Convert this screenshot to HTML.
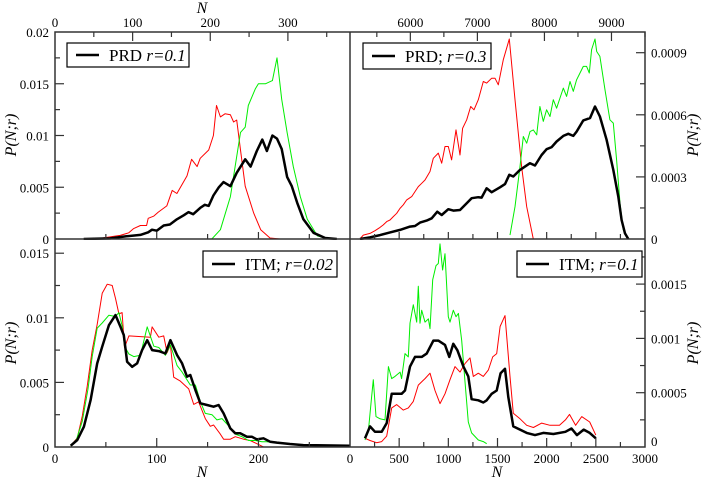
<!DOCTYPE html>
<html><head><meta charset="utf-8"><style>
html,body{margin:0;padding:0;background:#fff}
svg{display:block;font-family:"Liberation Serif","DejaVu Serif",serif}
svg text{font-family:"Liberation Serif","DejaVu Serif",serif}
</style></head><body>
<svg id="c" width="706" height="481" viewBox="0 0 706 481" font-family="Liberation Serif, DejaVu Serif, serif"></svg>
<script>
// ---- Top-left: PRD r=0.1 ----
const tlRedN=[37,58,71,84,95,101,110,118,120,127,133,144,151,157,170,176,183,187,198,204,208,213,219,226,230,234,239,245,256,265,277,290];
const tlRedP=[0,0.00006,0.0002,0.00035,0.0006,0.001,0.0013,0.0013,0.002,0.0022,0.0026,0.0032,0.0047,0.0044,0.0061,0.0077,0.007,0.0078,0.0086,0.01,0.0129,0.0118,0.0121,0.012,0.0113,0.0115,0.0086,0.0051,0.0025,0.0009,0.0001,0];
const tlGreenN=[202,213,226,239,245,249,258,262,271,280,286,292,299,307,316,325,338,353];
const tlGreenP=[0,0.0009,0.0041,0.0103,0.0108,0.0129,0.0145,0.015,0.015,0.0153,0.0175,0.0135,0.0103,0.007,0.0041,0.0019,0.0003,0];
const tlBlackN=[37,71,92,110,120,125,131,140,148,157,166,172,178,187,193,198,204,211,217,226,234,245,252,260,267,273,280,286,292,299,305,312,320,333,348,363];
const tlBlackP=[0,0.00006,0.00026,0.0004,0.00065,0.0009,0.0008,0.0013,0.0014,0.0019,0.0023,0.0026,0.0024,0.003,0.0033,0.0032,0.0042,0.005,0.0055,0.0051,0.0064,0.0077,0.007,0.0085,0.0096,0.0085,0.01,0.0097,0.0087,0.006,0.0051,0.0035,0.0019,0.0006,0.0001,0];
// ---- Top-right: PRD r=0.3 ----
const trRedN=[5249,5299,5398,5473,5547,5597,5647,5697,5746,5796,5846,5895,5945,6020,6069,6119,6169,6218,6293,6343,6417,6467,6517,6566,6616,6681,6740,6780,6840,6900,6949,7014,7088,7138,7213,7262,7312,7387,7476,7561,7660,7735,7834];
const trRedP=[0,0.000019,0.000027,0.00004,0.000056,0.000068,0.000084,0.000092,0.000108,0.000124,0.000148,0.000165,0.000189,0.000205,0.000229,0.000253,0.000269,0.000285,0.000326,0.00039,0.000415,0.000366,0.000447,0.000447,0.000382,0.000527,0.000406,0.000535,0.000576,0.00064,0.000624,0.000673,0.000761,0.000753,0.000777,0.000777,0.000745,0.000866,0.000966,0.000673,0.00035,0.000156,0];
const trGreenN=[7486,7561,7635,7685,7735,7784,7834,7884,7933,7983,8033,8083,8132,8182,8232,8281,8331,8381,8431,8480,8530,8580,8629,8669,8704,8754,8779,8828,8903,8977,9027,9077,9127,9176,9251];
const trGreenP=[0.000019,0.000156,0.00035,0.000495,0.000463,0.000519,0.000527,0.000503,0.00064,0.000568,0.000624,0.000592,0.000673,0.000632,0.000681,0.000729,0.000689,0.000761,0.000713,0.000769,0.000802,0.000834,0.000834,0.000802,0.000915,0.000966,0.000906,0.000882,0.000721,0.000576,0.00056,0.000382,0.000173,0.000044,0];
const trBlackN=[5249,5398,5547,5697,5846,5995,6069,6144,6243,6318,6402,6467,6566,6641,6740,6840,6914,7014,7063,7138,7213,7337,7412,7476,7536,7635,7784,7859,7958,8033,8108,8182,8281,8356,8431,8480,8580,8679,8754,8828,8928,9027,9102,9151,9201,9251];
const trBlackP=[0,0.000008,0.000019,0.000032,0.000044,0.00006,0.000063,0.000079,0.000089,0.0001,0.000132,0.000116,0.000144,0.000137,0.00014,0.000173,0.000197,0.000202,0.0002,0.000245,0.000226,0.00025,0.000265,0.00031,0.000302,0.000334,0.000366,0.000355,0.000406,0.000434,0.000444,0.000471,0.000498,0.000508,0.000498,0.000519,0.000573,0.000584,0.00064,0.000592,0.000479,0.000334,0.000205,0.000092,0.000027,0];
// ---- Bottom-left: ITM r=0.02 ----
const blRedN=[15.4,21.9,26.8,31.7,36.6,41.5,46.4,51.3,56.2,59.5,62.8,66,68.3,72.6,93.8,95.5,102,106.9,110.2,113.4,116.7,123.2,131.4,136.3,141.2,147.8,152.7,155.9,162.5,165.7,172.3,177.2,185.4,191.9,200,205];
const blRedP=[0.0001,0.0007,0.0024,0.0047,0.0075,0.0095,0.0119,0.0126,0.0125,0.0115,0.0103,0.0104,0.0077,0.0086,0.0085,0.0093,0.0085,0.0086,0.0073,0.0079,0.0054,0.0051,0.0045,0.0033,0.0035,0.0022,0.0016,0.0017,0.001,0.0006,0.0006,0.0008,0.0006,0.0005,0.0002,0];
const blGreenN=[15.4,21.2,26.8,32.4,36.6,41.5,46.4,53,59.5,62.8,66,68.3,72.6,77.5,84,90.6,97.1,102,108.5,113.4,120,124.9,133,138,142.9,147.8,154.3,159.2,164.2,172.3,177.2,183.8,190.3,196.9,203.4,208.3,218.1,234.4,257.3,290];
const blGreenP=[0.0001,0.0006,0.002,0.0045,0.007,0.0092,0.0096,0.0102,0.0101,0.0104,0.0094,0.0078,0.0072,0.007,0.0071,0.0093,0.0078,0.0077,0.0071,0.0079,0.0063,0.0058,0.0048,0.0048,0.0035,0.0026,0.0025,0.0021,0.0022,0.0015,0.001,0.0008,0.0005,0.0005,0.0004,0.0004,0.0003,0.0002,0.0001,0.0001];
const blBlackN=[15.4,21.9,28.4,35,41.5,46.4,53,59.5,64.4,67.6,70.9,75.8,80.7,85.6,90.6,95.5,102,108.5,113.4,120,124.9,129.8,133,138,142.9,149.4,155.9,160.8,165.7,172.3,177.2,182.1,188.6,193.5,198.4,205,211.5,218,231,244.2,257.3,290];
const blBlackP=[0.0001,0.00054,0.00157,0.00363,0.00647,0.00776,0.00943,0.01021,0.0093,0.00866,0.0066,0.00621,0.00647,0.0075,0.00827,0.0075,0.00742,0.00724,0.00827,0.00711,0.00647,0.00544,0.00557,0.00441,0.00338,0.00325,0.00312,0.00325,0.0026,0.00144,0.00106,0.00106,0.0008,0.0008,0.00059,0.00067,0.00041,0.00034,0.00023,0.00015,0.00013,0.0001];
// ---- Bottom-right: ITM r=0.1 ----
const brRedN=[153,203,271,322,373,424,475,542,593,644,695,763,814,864,915,966,1017,1068,1119,1170,1220,1254,1305,1356,1407,1451,1492,1526,1576,1627,1661,1729,1797,1865,1949,2034,2130,2191,2232,2294,2356,2438,2500];
const brRedP=[0.00008,0.00006,0.00004,0.00005,0.0001,0.00036,0.00039,0.00034,0.00036,0.00042,0.00057,0.00063,0.00068,0.00052,0.0004,0.00049,0.00062,0.00074,0.00069,0.00077,0.00082,0.00065,0.00068,0.00065,0.00071,0.00083,0.00086,0.00111,0.00121,0.00065,0.00031,0.00026,0.0002,0.00018,0.00022,0.0002,0.0002,0.00025,0.0003,0.0002,0.00028,0.00023,0.00011];
const brGreenN=[153,186,220,237,264,305,356,390,424,458,509,525,559,593,610,644,678,695,712,729,763,797,814,841,875,898,915,942,966,1000,1017,1051,1078,1102,1136,1170,1203,1237,1305,1356,1390];
const brGreenP=[0.000064,0.00014,0.00046,0.00062,0.00028,0.00026,0.00025,0.00074,0.00063,0.00065,0.00069,0.00063,0.00086,0.00083,0.00114,0.00131,0.00115,0.00148,0.00114,0.00126,0.00115,0.00118,0.00109,0.00154,0.00167,0.00169,0.00187,0.00163,0.00178,0.0012,0.00115,0.00126,0.0012,0.00123,0.00098,0.00059,0.00023,0.00013,0.000064,0.00005,0.00003];
const brBlackN=[153,203,254,322,373,424,475,525,559,610,661,729,780,848,898,966,1010,1051,1092,1153,1203,1237,1305,1356,1390,1441,1492,1532,1576,1610,1661,1729,1797,1881,1966,2068,2191,2253,2307,2377,2438,2500];
const brBlackP=[0.00008,0.00019,0.00014,0.00014,0.00022,0.00049,0.00049,0.00049,0.00052,0.00074,0.00083,0.00083,0.00086,0.00098,0.00098,0.00094,0.00083,0.00095,0.00089,0.00074,0.00065,0.00044,0.00043,0.00041,0.00043,0.00049,0.00052,0.00068,0.00072,0.00046,0.00019,0.00016,0.00013,0.00011,0.00013,0.00012,0.00014,0.00017,0.00011,0.00016,0.00013,0.00008];

const NS='http://www.w3.org/2000/svg';
const FONT='Liberation Serif, DejaVu Serif, serif';
const svg=document.getElementById('c');
function mk(tag,attrs,parent){const e=document.createElementNS(NS,tag);for(const k in attrs)e.setAttribute(k,attrs[k]);(parent||svg).appendChild(e);return e;}
function lin(d0,d1,r0,r1){return v=>r0+(v-d0)/(d1-d0)*(r1-r0);}

const panels={
 tl:{x:lin(0,380,55,350),y:lin(0,0.02,239,32),cx:55,cy:32},
 tr:{x:lin(5100,9500,350,645),y:lin(0,0.001,239,32),cx:350,cy:32},
 bl:{x:lin(0,290,55,350),y:lin(0,0.0161,447,239),cx:55,cy:239},
 br:{x:lin(0,3000,350,645),y:lin(0,0.0019153,447,239),cx:350,cy:239}
};
const defs=mk('defs',{});
for(const k in panels){const p=panels[k];const cp=mk('clipPath',{id:'clip-'+k},defs);mk('rect',{x:p.cx,y:p.cy,width:295,height:208},cp);}

function series(k,N,P,color,w,name){
 const p=panels[k];
 let d='';
 for(let i=0;i<N.length;i++){d+=(i?'L':'M')+p.x(N[i]).toFixed(1)+','+p.y(P[i]).toFixed(1);}
 const el=mk('path',{d:d,fill:'none',stroke:color,'stroke-width':w,'stroke-linejoin':'round','clip-path':'url(#clip-'+k+')'});
 
 
}
series('tl',tlRedN,tlRedP,'#ff0000',1,'tl-red-line');
series('tl',tlGreenN,tlGreenP,'#00ee00',1,'tl-green-line');
series('tl',tlBlackN,tlBlackP,'#000',2.5,'tl-black-line');
series('tr',trRedN,trRedP,'#ff0000',1,'tr-red-line');
series('tr',trGreenN,trGreenP,'#00ee00',1,'tr-green-line');
series('tr',trBlackN,trBlackP,'#000',2.5,'tr-black-line');
series('bl',blRedN,blRedP,'#ff0000',1,'bl-red-line');
series('bl',blGreenN,blGreenP,'#00ee00',1,'bl-green-line');
series('bl',blBlackN,blBlackP,'#000',2.5,'bl-black-line');
series('br',brRedN,brRedP,'#ff0000',1,'br-red-line');
series('br',brGreenN,brGreenP,'#00ee00',1,'br-green-line');
series('br',brBlackN,brBlackP,'#000',2.5,'br-black-line');

const fr=mk('g',{stroke:'#333','stroke-width':1.5,fill:'none'});


mk('rect',{x:55,y:32,width:590,height:415},fr);
mk('line',{x1:55,y1:239,x2:645,y2:239},fr);
mk('line',{x1:350,y1:32,x2:350,y2:447},fr);

const tg=mk('g',{stroke:'#333','stroke-width':1.2});


function xt(f,vals,y,dir,len){vals.forEach(v=>{const x=f(v);mk('line',{x1:x,y1:y,x2:x,y2:y+dir*len},tg);});}
function yt(f,vals,x,dir,len){vals.forEach(v=>{const y=f(v);mk('line',{x1:x,y1:y,x2:x+dir*len,y2:y},tg);});}
function rng(a,b,s){const r=[];for(let v=a;v<=b+1e-12;v+=s)r.push(+v.toFixed(8));return r;}
xt(panels.tl.x,rng(100,300,100),32,1,9);xt(panels.tl.x,rng(50,350,100),32,1,5);
yt(panels.tl.y,rng(0.005,0.015,0.005),55,1,9);yt(panels.tl.y,rng(0.0025,0.0175,0.005),55,1,5);
xt(panels.tr.x,rng(6000,9000,1000),32,1,9);xt(panels.tr.x,rng(5500,9500,1000),32,1,5);
yt(panels.tr.y,rng(0.0003,0.0009,0.0003),645,-1,9);yt(panels.tr.y,rng(0.00015,0.00075,0.0003),645,-1,5);
xt(panels.bl.x,rng(100,200,100),447,-1,9);xt(panels.bl.x,rng(50,250,100),447,-1,5);
xt(panels.bl.x,rng(100,200,100),239,-1,7);xt(panels.bl.x,rng(50,250,100),239,-1,5);
yt(panels.bl.y,rng(0.005,0.015,0.005),55,1,9);yt(panels.bl.y,rng(0.0025,0.0125,0.005),55,1,5);
xt(panels.br.x,rng(500,2500,500),447,-1,9);xt(panels.br.x,rng(250,2750,500),447,-1,5);
xt(panels.br.x,rng(500,2500,500),239,-1,7);xt(panels.br.x,rng(250,2750,500),239,-1,5);
yt(panels.br.y,rng(0.0005,0.0015,0.0005),645,-1,9);yt(panels.br.y,rng(0.00025,0.00175,0.0005),645,-1,5);

function txt(x,y,s,anchor,name,extra){const e=mk('text',Object.assign({x:x,y:y,'font-size':13,'font-family':FONT,'text-anchor':anchor||'middle',fill:'#000'},extra||{}));e.textContent=s;return e;}
[[0,'0'],[100,'100'],[200,'200'],[300,'300']].forEach(a=>txt(panels.tl.x(a[0]),27,a[1],'middle','tl-top-tick-label'));
[[0,'0'],[0.005,'0.005'],[0.01,'0.01'],[0.015,'0.015'],[0.02,'0.02']].forEach(a=>txt(49,panels.tl.y(a[0])+5,a[1],'end','tl-y-tick-label'));
[[6000,'6000'],[7000,'7000'],[8000,'8000'],[9000,'9000']].forEach(a=>txt(panels.tr.x(a[0]),27,a[1],'middle','tr-top-tick-label'));
[[0,'0'],[0.0003,'0.0003'],[0.0006,'0.0006'],[0.0009,'0.0009']].forEach(a=>txt(651,panels.tr.y(a[0])+5,a[1],'start','tr-y-tick-label'));
[[0,'0'],[0.005,'0.005'],[0.01,'0.01'],[0.015,'0.015']].forEach(a=>txt(49,panels.bl.y(a[0])+5,a[1],'end','bl-y-tick-label'));
[[0,'0'],[100,'100'],[200,'200']].forEach(a=>txt(panels.bl.x(a[0]),463,a[1],'middle','bl-x-tick-label'));
[[0,'0'],[500,'500'],[1000,'1000'],[1500,'1500'],[2000,'2000'],[2500,'2500'],[3000,'3000']].forEach(a=>txt(panels.br.x(a[0]),463,a[1],'middle','br-x-tick-label'));
[[0,'0'],[0.0005,'0.0005'],[0.001,'0.001'],[0.0015,'0.0015']].forEach(a=>txt(651,panels.br.y(a[0])+(a[0]===0?-1:5),a[1],'start','br-y-tick-label'));

const it={'font-style':'italic','font-size':16};
txt(202,13,'N','middle','top-x-axis-title',it);
txt(202,477,'N','middle','bl-x-axis-title',it);
txt(497,477,'N','middle','br-x-axis-title',it);
txt(0,0,'P(N;r)','middle','tl-y-axis-title',Object.assign({transform:'translate(16,135) rotate(-90)'},it));
txt(0,0,'P(N;r)','middle','bl-y-axis-title',Object.assign({transform:'translate(16,343) rotate(-90)'},it));
txt(0,0,'P(N;r)','middle','tr-y-axis-title',Object.assign({transform:'translate(698,135) rotate(-90)'},it));
txt(0,0,'P(N;r)','middle','br-y-axis-title',Object.assign({transform:'translate(698,343) rotate(-90)'},it));

function legend(x,y,w,h,pre,it2,name){
 const g=mk('g',{});
 mk('rect',{x:x,y:y,width:w,height:h,fill:'#fff',stroke:'#000','stroke-width':1.2},g);
 mk('line',{x1:x+9,y1:y+h/2,x2:x+32,y2:y+h/2,stroke:'#000','stroke-width':2.5},g);
 const t=mk('text',{x:x+42,y:y+h/2+6,'font-size':17,'font-family':FONT,fill:'#000'},g);
 t.appendChild(document.createTextNode(pre));
 const s=mk('tspan',{'font-style':'italic'},t);s.textContent=it2;
}
legend(67,43,122,24,'PRD ','r=0.1','legend-prd-r01');
legend(363,43,128,26,'PRD; ','r=0.3','legend-prd-r03');
legend(203,251,134,26,'ITM; ','r=0.02','legend-itm-r002');
legend(517,251,125,26,'ITM; ','r=0.1','legend-itm-r01');
</script>
</body></html>
